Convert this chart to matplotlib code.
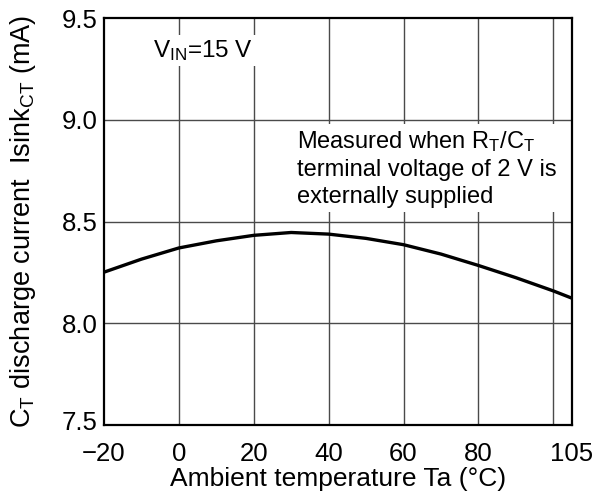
import matplotlib
matplotlib.use("Agg")
import matplotlib.pyplot as plt
import matplotlib.transforms as mtrans

# Data
temperature = [-20, -10, 0, 10, 20, 30, 40, 50, 60, 70, 80, 90, 100, 105]
isink_ct = [8.251, 8.315, 8.370, 8.405, 8.432, 8.446, 8.438, 8.417, 8.386, 8.340,
            8.284, 8.224, 8.159, 8.123]

x_ticks = [-20, 0, 20, 40, 60, 80, 105]
x_grid = [0, 20, 40, 60, 80, 100]
y_ticks = [7.5, 8.0, 8.5, 9.0, 9.5]

plt.rcParams['font.family'] = ['Liberation Sans', 'DejaVu Sans']
plt.rcParams['mathtext.fontset'] = 'custom'
plt.rcParams['mathtext.rm'] = 'Liberation Sans'
plt.rcParams['mathtext.it'] = 'Liberation Sans'
plt.rcParams['mathtext.bf'] = 'Liberation Sans'

fig = plt.figure(figsize=(6.01, 4.96), dpi=100)
ax = fig.add_axes([104/601, 1 - 425/496, (572-104)/601, (425-18)/496])

for gx in x_grid:
    ax.axvline(gx, color='#4a4a4a', lw=1.0, zorder=1)
for gy in y_ticks[1:-1]:
    ax.axhline(gy, color='#4a4a4a', lw=1.0, zorder=1)

ax.plot(temperature, isink_ct, color='black', lw=2.4, zorder=3,
        solid_capstyle='butt', solid_joinstyle='round')

ax.set_xlim(-20, 105)
ax.set_ylim(7.5, 9.5)
ax.set_xticks(x_ticks)
ax.set_xticklabels([f'{v}' if v >= 0 else f'\u2212{abs(v)}' for v in x_ticks])
ax.set_yticks(y_ticks)
ax.set_yticklabels([f'{v:.1f}' for v in y_ticks])
ax.tick_params(axis='both', length=0, labelsize=18.5)
ax.tick_params(axis='x', pad=12)
ax.tick_params(axis='y', pad=4.5)

# lift the bottom y label slightly, as in the reference
lbl = ax.get_yticklabels()[0]
lbl.set_transform(lbl.get_transform() + mtrans.ScaledTranslation(0, 4/100, fig.dpi_scale_trans))

for s in ax.spines.values():
    s.set_linewidth(1.6)
    s.set_color('black')
    s.set_zorder(5)

ax.set_xlabel('Ambient temperature Ta (\u00b0C)', fontsize=19, labelpad=1)
ax.set_ylabel(r'C$_{\mathregular{T}}$ discharge current  Isink$_{\mathregular{CT}}$ (mA)',
              fontsize=19.5, labelpad=17)

ax.text(-6.9, 9.308, r'V$_{\mathregular{IN}}$=15 V', fontsize=17.5, va='baseline', ha='left',
        zorder=4, bbox=dict(facecolor='white', edgecolor='none', pad=2))

ax.text(31.5, 8.591,
        'Measured when R$_{\\mathregular{T}}$/C$_{\\mathregular{T}}$\nterminal voltage of 2 V is\nexternally supplied',
        fontsize=17, va='baseline', ha='left', linespacing=1.28, zorder=4,
        bbox=dict(facecolor='white', edgecolor='none', pad=3))

fig.savefig('out.png', dpi=100)
